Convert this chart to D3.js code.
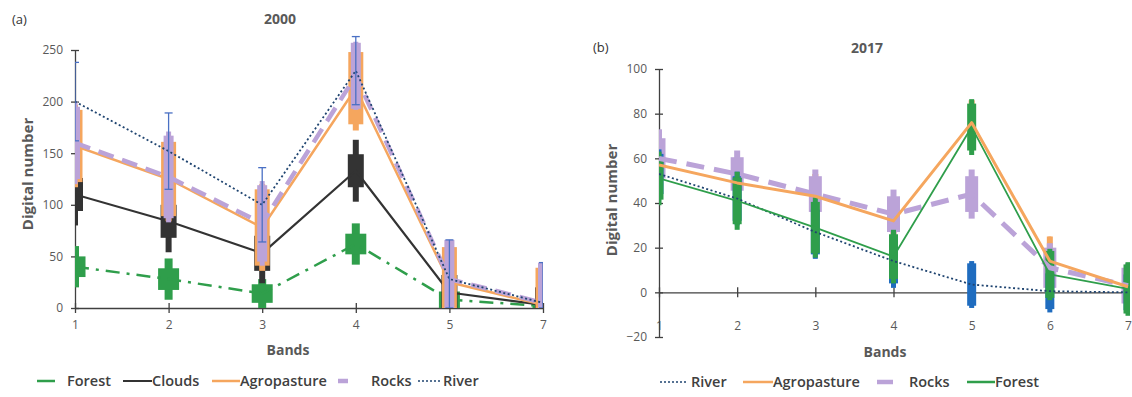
<!DOCTYPE html>
<html><head><meta charset="utf-8">
<script src="https://cdn.jsdelivr.net/npm/d3@7"></script>
<style>body{margin:0;background:#fff} svg{display:block;font-family:"Open Sans",sans-serif}</style>
</head><body><svg id="c" width="1132" height="397"></svg>
<script>
// ---------- data ----------
const bandsA = ["1","2","3","4","5","7"];
const bandsB = ["1","2","3","4","5","6","7"];
const yTicksA = [0,50,100,150,200,250];
const yTicksB = [-20,0,20,40,60,80,100];
const legendA = ["Forest","Clouds","Agropasture","Rocks","River"];
const legendB = ["River","Agropasture","Rocks","Forest"];

// 2000: mean, box half-range, whisker half-range
const forest2000 = [40, 28, 14, 62, 8, 2];
const forest2000Box = [10, 10.5, 9, 10, 8, 6];
const forest2000Whisker = [20, 20, 14, 20, 10, 6];
const clouds2000 = [110, 84, 53, 133, 15, 3];
const clouds2000Box = [16, 16, 17, 16, 17, 17];
const clouds2000Whisker = [30, 30, 29, 30, 17, 17];
const agro2000 = [157, 125, 78, 213, 25, 3];
const agro2000Box = [35, 36, 37, 35, 34, 36];
const agro2000Whisker = [40, 41, 42, 41, 34, 36];
const rocks2000 = [160, 127, 82, 225, 28, 5];
const rocks2000Box = [35, 40, 37, 32, 38, 39];
const rocks2000Whisker = [40, 44, 41, 33, 38, 39];
const river2000 = [200, 152, 100, 230, 28, 5];
const river2000Err = [38, 37, 36, 33, 38, 39];

// 2017
const river2017 = [53, 42, 27, 14, 3.5, 0.5, 0];
const river2017Box = [9, 10, 10, 10, 9.5, 8, 8];
const river2017Whisker = [11, 12, 12, 12, 10.5, 9.5, 9];
const agro2017 = [57, 49, 43, 32, 76, 14, 2.5];
const agro2017Box = [10, 10, 10, 10, 10, 11, 8];
const agro2017Whisker = [10, 10, 10, 10, 10, 11, 8];
const rocks2017 = [60, 53, 44, 35, 44, 11, 3];
const rocks2017Box = [9, 7.5, 8, 8, 8, 9, 8];
const rocks2017Whisker = [13, 10.5, 11, 11, 11, 11, 10];
const forest2017 = [51, 41, 29, 16, 74, 8, 1.5];
const forest2017Box = [9.5, 10.5, 11.5, 10, 10.5, 10.5, 11];
const forest2017Whisker = [12, 13, 13.5, 12, 12.5, 11.5, 12];

// ---------- styles ----------
const C = {
  green: "#2f9e4b", black: "#333333", orange: "#f5a65e", purple: "#bba3d8",
  riverLine: "#1f4470", riverErr: "#4a70c4", blue: "#1f6cbf",
  axis: "#404040", text: "#595959", legend: "#404040"
};

const svg = d3.select("#c");
const defs = svg.append("defs");

// ---------- scales ----------
const xA = d3.scalePoint().domain(bandsA).range([75, 543]);
const yA = d3.scaleLinear().domain([0, 250]).range([308, 50]);
const xB = d3.scalePoint().domain(bandsB).range([659, 1128]);
const yB = d3.scaleLinear().domain([-20, 100]).range([337, 69]);

defs.append("clipPath").attr("id","clipA").append("rect")
  .attr("x", xA("1")).attr("y", 0).attr("width", xA("7") - xA("1")).attr("height", yA(0));
defs.append("clipPath").attr("id","clipB").append("rect")
  .attr("x", xB("1")).attr("y", 0).attr("width", 1130 - xB("1")).attr("height", yB(-20));

function boxes(g, x, y, cats, mean, box, wh, color, bw, ww) {
  const d = cats.map((c, i) => ({c, m: mean[i], b: box[i], w: wh[i]}));
  g.selectAll(null).data(d).enter().append("rect")
    .attr("x", e => x(e.c) - ww / 2).attr("width", ww)
    .attr("y", e => y(e.m + e.w)).attr("height", e => y(e.m - e.w) - y(e.m + e.w))
    .attr("fill", color);
  g.selectAll(null).data(d).enter().append("rect")
    .attr("x", e => x(e.c) - bw / 2).attr("width", bw)
    .attr("y", e => y(e.m + e.b)).attr("height", e => y(e.m - e.b) - y(e.m + e.b))
    .attr("fill", color);
}
function line(g, x, y, cats, vals, color, width, dash) {
  const l = d3.line().x((d, i) => x(cats[i])).y(d => y(d));
  g.append("path").datum(vals).attr("d", l).attr("fill", "none")
    .attr("stroke", color).attr("stroke-width", width)
    .attr("stroke-dasharray", dash || null).attr("stroke-linejoin", "round");
}
function errLines(g, x, y, cats, mean, err, color) {
  cats.forEach((c, i) => {
    const cx = x(c), t = y(mean[i] + err[i]), b = y(Math.max(0, mean[i] - err[i]));
    g.append("line").attr("x1", cx).attr("x2", cx).attr("y1", t).attr("y2", b)
      .attr("stroke", color).attr("stroke-width", 1.3);
    [t, b].forEach(yy => g.append("line").attr("x1", cx - 4).attr("x2", cx + 4)
      .attr("y1", yy).attr("y2", yy).attr("stroke", color).attr("stroke-width", 1.3));
  });
}
function axes(x, y, yTicks, y0, labelOffset) {
  const gx = svg.append("g").attr("transform", `translate(0,${y(y0)})`)
    .call(d3.axisBottom(x).tickSize(5).tickSizeOuter(0));
  gx.select(".domain").attr("stroke", C.axis).attr("stroke-width", 1.3);
  gx.selectAll(".tick line").attr("y1", -5).attr("y2", 5).attr("stroke", C.axis).attr("stroke-width", 1.3);
  gx.selectAll(".tick text").attr("y", labelOffset).attr("dy", "0.71em")
    .attr("fill", C.text).attr("font-size", 12).attr("font-family", "Open Sans");
  const x0 = x.range()[0];
  const gy = svg.append("g").attr("transform", `translate(${x0},0)`)
    .call(d3.axisLeft(y).tickValues(yTicks).tickSize(4).tickSizeOuter(0));
  gy.select(".domain").attr("stroke", C.axis).attr("stroke-width", 1.3);
  gy.selectAll(".tick line").attr("x1", -4).attr("x2", 4).attr("stroke", C.axis).attr("stroke-width", 1.3);
  gy.selectAll(".tick text").attr("x", -12).attr("fill", C.text)
    .attr("font-size", 12).attr("font-family", "Open Sans");
}

// ---------- panel (a) 2000 ----------
axes(xA, yA, yTicksA, 0, 12);
const pA = svg.append("g").attr("clip-path", "url(#clipA)");
boxes(pA, xA, yA, bandsA, forest2000, forest2000Box, forest2000Whisker, C.green, 21, 8);
line(pA, xA, yA, bandsA, forest2000, C.green, 2.5, "14,7,3,7");
boxes(pA, xA, yA, bandsA, clouds2000, clouds2000Box, clouds2000Whisker, C.black, 16, 6);
line(pA, xA, yA, bandsA, clouds2000, C.black, 2.2);
boxes(pA, xA, yA, bandsA, agro2000, agro2000Box, agro2000Whisker, C.orange, 15, 6);
line(pA, xA, yA, bandsA, agro2000, C.orange, 2.5);
boxes(pA, xA, yA, bandsA, rocks2000, rocks2000Box, rocks2000Whisker, C.purple, 10, 5);
line(pA, xA, yA, bandsA, rocks2000, C.purple, 4.5, "16,9");
line(pA, xA, yA, bandsA, river2000, C.riverLine, 1.8, "2,2.5");
errLines(pA, xA, yA, bandsA, river2000, river2000Err, C.riverErr);

svg.append("text").attr("x", 12).attr("y", 24).text("(a)")
  .attr("font-size", 13).attr("fill", "#333");
svg.append("text").attr("x", 280).attr("y", 24).attr("text-anchor", "middle").text("2000")
  .attr("font-size", 14).attr("font-weight", 700).attr("fill", C.text);
svg.append("text").attr("transform", "translate(33,174) rotate(-90)").attr("text-anchor", "middle")
  .text("Digital number").attr("font-size", 15).attr("font-weight", 700).attr("fill", C.text);
svg.append("text").attr("x", 288).attr("y", 355).attr("text-anchor", "middle").text("Bands")
  .attr("font-size", 14).attr("font-weight", 700).attr("fill", C.text);

// ---------- panel (b) 2017 ----------
axes(xB, yB, yTicksB, 0, 29);
const pB = svg.append("g").attr("clip-path", "url(#clipB)");
boxes(pB, xB, yB, bandsB, agro2017, agro2017Box, agro2017Whisker, C.orange, 6, 3);
boxes(pB, xB, yB, bandsB, rocks2017, rocks2017Box, rocks2017Whisker, C.purple, 13, 6);
boxes(pB, xB, yB, bandsB, river2017, river2017Box, river2017Whisker, C.blue, 9, 5);
boxes(pB, xB, yB, bandsB, forest2017, forest2017Box, forest2017Whisker, C.green, 9, 5);
line(pB, xB, yB, bandsB, rocks2017, C.purple, 5, "18,10");
line(pB, xB, yB, bandsB, river2017, C.riverLine, 1.8, "2,2.5");
line(pB, xB, yB, bandsB, forest2017, C.green, 1.8);
line(pB, xB, yB, bandsB, agro2017, C.orange, 3);

svg.append("text").attr("x", 593).attr("y", 52).text("(b)")
  .attr("font-size", 13).attr("fill", "#333");
svg.append("text").attr("x", 867).attr("y", 53).attr("text-anchor", "middle").text("2017")
  .attr("font-size", 14).attr("font-weight", 700).attr("fill", C.text);
svg.append("text").attr("transform", "translate(617,200) rotate(-90)").attr("text-anchor", "middle")
  .text("Digital number").attr("font-size", 15).attr("font-weight", 700).attr("fill", C.text);
svg.append("text").attr("x", 885).attr("y", 357).attr("text-anchor", "middle").text("Bands")
  .attr("font-size", 14).attr("font-weight", 700).attr("fill", C.text);

// ---------- legends ----------
const styleOf = {
  Forest: {c: C.green, w: 2.5, d: null}, Clouds: {c: C.black, w: 2, d: null},
  Agropasture: {c: C.orange, w: 2.5, d: null}, Rocks: {c: C.purple, w: 4.5, d: null},
  River: {c: C.riverLine, w: 1.5, d: "2,2"}
};
function legend(names, items, yy) {
  names.forEach((n, i) => {
    const it = items[i], s = styleOf[n];
    svg.append("line").attr("x1", it[0]).attr("x2", it[1]).attr("y1", yy).attr("y2", yy)
      .attr("stroke", s.c).attr("stroke-width", s.w).attr("stroke-dasharray", s.d);
    svg.append("text").attr("x", it[2]).attr("y", yy + 5).text(n)
      .attr("font-size", 14.5).attr("font-weight", 600).attr("fill", C.legend);
  });
}
legend(legendA, [[37,55,67],[123,152,152],[212,240,240],[338,348,371],[418,442,443]], 381);
legend(legendB, [[660,687,691],[743,773,773],[877,893,909],[967,995,995]], 382);
</script></body></html>
